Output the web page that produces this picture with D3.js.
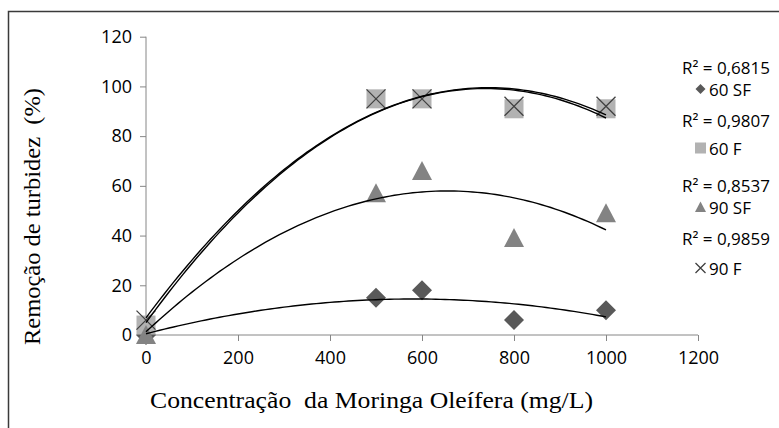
<!DOCTYPE html>
<html lang="pt">
<head>
<meta charset="UTF-8">
<title>Remoção de turbidez</title>
<script src="https://d3js.org/d3.v7.min.js"></script>
<style>
  body { margin: 0; background: #fff; }
  .tick text { font-family: "Open Sans", sans-serif; font-size: 18px; fill: #000; }
  .axis path, .axis line { stroke: #868686; }
  .legend text { font-family: "Open Sans", sans-serif; font-size: 17px; fill: #000; }
  .title { font-family: "Liberation Serif", serif; font-size: 24px; fill: #000; }
</style>
</head>
<body>
<svg id="chart" width="779" height="428"></svg>
<script>
  // concentrations (mg/L)
  const conc = [0, 500, 600, 800, 1000];
  // turbidity removal (%)
  const sf60 = [0, 15, 18, 6, 10];
  const f60 = [4, 95, 95, 91, 91];
  const sf90 = [0, 57, 66, 39, 49];
  const f90 = [6, 95, 95, 92, 92];
  const seriesNames = ["60 SF", "60 F", "90 SF", "90 F"];
  const r2Labels = ["R² = 0,6815", "R² = 0,9807", "R² = 0,8537", "R² = 0,9859"];
  const xTicks = [0, 200, 400, 600, 800, 1000, 1200];
  const yTicks = [0, 20, 40, 60, 80, 100, 120];

  const svg = d3.select("#chart");
  const x = d3.scaleLinear().domain([0, 1200]).range([146, 698]);
  const y = d3.scaleLinear().domain([0, 120]).range([335, 36.7]);

  // outer frame
  svg.append("path")
    .attr("d", "M8.5,440 V11.5 H790")
    .attr("fill", "none")
    .attr("stroke", "#3a3a3a")
    .attr("stroke-width", 1.5);

  const xAxis = svg.append("g").attr("class", "axis")
    .attr("transform", `translate(0,${y(0)})`)
    .call(d3.axisBottom(x).tickValues(xTicks).tickSize(6).tickPadding(10).tickFormat(d3.format("d")));
  const yAxis = svg.append("g").attr("class", "axis")
    .attr("transform", `translate(${x(0)},0)`)
    .call(d3.axisLeft(y).tickValues(yTicks).tickSize(6).tickPadding(8).tickFormat(d3.format("d")));
  xAxis.select(".domain").attr("d", `M${x(0)},0H${x(1200)}`);
  yAxis.select(".domain").attr("d", `M0,${y(0)}V${y(120)}`);

  // marker shapes
  function diamond(g, s) {
    return g.append("path").attr("d", `M0,${-s}L${s},0L0,${s}L${-s},0Z`).attr("fill", "#595959");
  }
  function square(g, s) {
    return g.append("rect").attr("x", -s).attr("y", -s).attr("width", 2 * s).attr("height", 2 * s).attr("fill", "#b2b2b2");
  }
  function triangle(g, s) {
    return g.append("path").attr("d", `M0,${-s}L${s},${s * 0.9}L${-s},${s * 0.9}Z`).attr("fill", "#838383");
  }
  function cross(g, s) {
    return g.append("path").attr("d", `M${-s},${-s}L${s},${s}M${s},${-s}L${-s},${s}`)
      .attr("stroke", "#404040").attr("stroke-width", 1.3).attr("fill", "none");
  }
  const shapes = [diamond, square, triangle, cross];
  const sizes = [10, 9.5, 10, 9.5];
  const allSeries = [sf60, f60, sf90, f90];

  allSeries.forEach((vals, i) => {
    const g = svg.append("g");
    vals.forEach((v, j) => {
      const m = g.append("g").attr("transform", `translate(${x(conc[j])},${y(v)})`);
      shapes[i](m, sizes[i]);
    });
  });

  // second-order polynomial trendline (least squares)
  function polyFit(xs, ys) {
    let s = [0, 0, 0, 0, 0], t = [0, 0, 0];
    xs.forEach((xv, i) => {
      for (let k = 0; k < 5; k++) s[k] += Math.pow(xv, k);
      for (let k = 0; k < 3; k++) t[k] += ys[i] * Math.pow(xv, k);
    });
    const A = [[s[0], s[1], s[2], t[0]], [s[1], s[2], s[3], t[1]], [s[2], s[3], s[4], t[2]]];
    for (let c = 0; c < 3; c++) {
      for (let r = c + 1; r < 3; r++) {
        const f = A[r][c] / A[c][c];
        for (let k = c; k < 4; k++) A[r][k] -= f * A[c][k];
      }
    }
    const b = [0, 0, 0];
    for (let r = 2; r >= 0; r--) {
      let sum = A[r][3];
      for (let k = r + 1; k < 3; k++) sum -= A[r][k] * b[k];
      b[r] = sum / A[r][r];
    }
    return xv => b[0] + b[1] * xv + b[2] * xv * xv;
  }

  const line = d3.line().x(d => x(d[0])).y(d => y(d[1]));
  const xs = d3.range(0, 1001, 10);
  allSeries.forEach(vals => {
    const f = polyFit(conc, vals);
    svg.append("path")
      .attr("d", line(xs.map(v => [v, f(v)])))
      .attr("fill", "none")
      .attr("stroke", "#000")
      .attr("stroke-width", 1.4);
  });

  // legend
  const legend = svg.append("g").attr("class", "legend");
  const r2Y = [74, 127, 192, 245];
  const itemY = [96, 155, 214, 275];
  const symY = [89, 148, 207, 268];
  const symSize = [5, 5.5, 5.5, 5];
  r2Labels.forEach((t, i) => {
    legend.append("text").attr("x", 682).attr("y", r2Y[i]).text(t);
    const m = legend.append("g").attr("transform", `translate(700.5,${symY[i]})`);
    shapes[i](m, symSize[i]);
    legend.append("text").attr("x", 709).attr("y", itemY[i]).text(seriesNames[i]);
  });

  // axis titles
  svg.append("text").attr("class", "title")
    .attr("x", 150).attr("y", 408)
    .attr("textLength", 443).attr("lengthAdjust", "spacingAndGlyphs")
    .style("white-space", "pre")
    .text("Concentração  da Moringa Oleífera (mg/L)");
  svg.append("text").attr("class", "title")
    .attr("transform", "translate(40,345) rotate(-90)")
    .attr("textLength", 257).attr("lengthAdjust", "spacingAndGlyphs")
    .style("white-space", "pre")
    .text("Remoção de turbidez  (%)");
</script>
</body>
</html>
